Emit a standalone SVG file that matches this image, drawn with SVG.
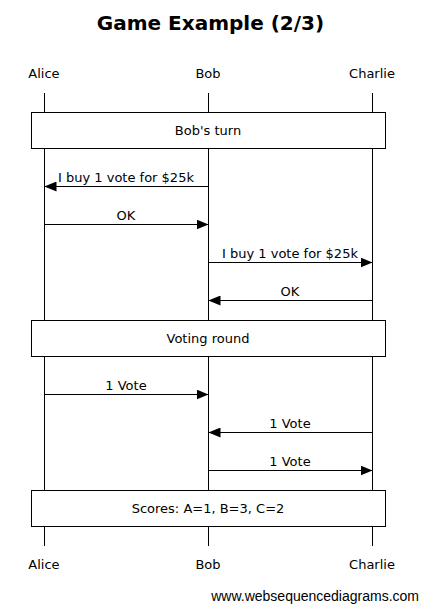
<svg xmlns="http://www.w3.org/2000/svg" width="421" height="605" viewBox="0 0 421 605">
<defs>
<style>
text{font-family:"DejaVu Sans",sans-serif;font-size:13px;fill:#000;text-anchor:middle}
.title{font-size:20px;font-weight:bold}
.foot{font-family:"Liberation Sans",Arial,sans-serif;font-size:14px;text-anchor:end}
.life{stroke:#000;stroke-width:1}
.box{fill:#fff;stroke:#000;stroke-width:1}
.msg{stroke:#000;stroke-width:1;fill:none}
</style>
<marker id="ah" viewBox="0 0 12 10" refX="12" refY="5" markerWidth="12" markerHeight="10" markerUnits="userSpaceOnUse" orient="auto">
<path d="M0,0 L12,5 L0,10 Z" fill="#000"/>
</marker>
</defs>
<rect width="421" height="605" fill="#fff"/>
<text class="title" x="210.5" y="30">Game Example (2/3)</text>
<g id="lifelines">
<line class="life" x1="44.5" y1="93" x2="44.5" y2="546"/>
<line class="life" x1="208.5" y1="93" x2="208.5" y2="546"/>
<line class="life" x1="372.5" y1="93" x2="372.5" y2="546"/>
</g>
<g id="Alice"><text x="44" y="78">Alice</text><text x="44" y="569">Alice</text></g>
<g id="Bob"><text x="208" y="78">Bob</text><text x="208" y="569">Bob</text></g>
<g id="Charlie"><text x="372" y="78">Charlie</text><text x="372" y="569">Charlie</text></g>
<g id="note1"><rect class="box" x="31.5" y="112.5" width="354" height="36"/><text x="208" y="135">Bob's turn</text></g>
<g id="note2"><rect class="box" x="31.5" y="320.5" width="354" height="36"/><text x="208" y="343">Voting round</text></g>
<g id="note3"><rect class="box" x="31.5" y="490.5" width="354" height="36"/><text x="208" y="513">Scores: A=1, B=3, C=2</text></g>
<g id="connectors">
<line class="msg" x1="208.5" y1="186.5" x2="44.5" y2="186.5" marker-end="url(#ah)"/>
<line class="msg" x1="44.5" y1="224.5" x2="208.5" y2="224.5" marker-end="url(#ah)"/>
<line class="msg" x1="208.5" y1="262.5" x2="372.5" y2="262.5" marker-end="url(#ah)"/>
<line class="msg" x1="372.5" y1="300.5" x2="208.5" y2="300.5" marker-end="url(#ah)"/>
<line class="msg" x1="44.5" y1="394.5" x2="208.5" y2="394.5" marker-end="url(#ah)"/>
<line class="msg" x1="372.5" y1="432.5" x2="208.5" y2="432.5" marker-end="url(#ah)"/>
<line class="msg" x1="208.5" y1="470.5" x2="372.5" y2="470.5" marker-end="url(#ah)"/>
</g>
<g id="labels">
<text x="126" y="182">I buy 1 vote for $25k</text>
<text x="126" y="220">OK</text>
<text x="290" y="258">I buy 1 vote for $25k</text>
<text x="290" y="296">OK</text>
<text x="126" y="390">1 Vote</text>
<text x="290" y="428">1 Vote</text>
<text x="290" y="466">1 Vote</text>
</g>
<text class="foot" x="419" y="601">www.websequencediagrams.com</text>
</svg>
